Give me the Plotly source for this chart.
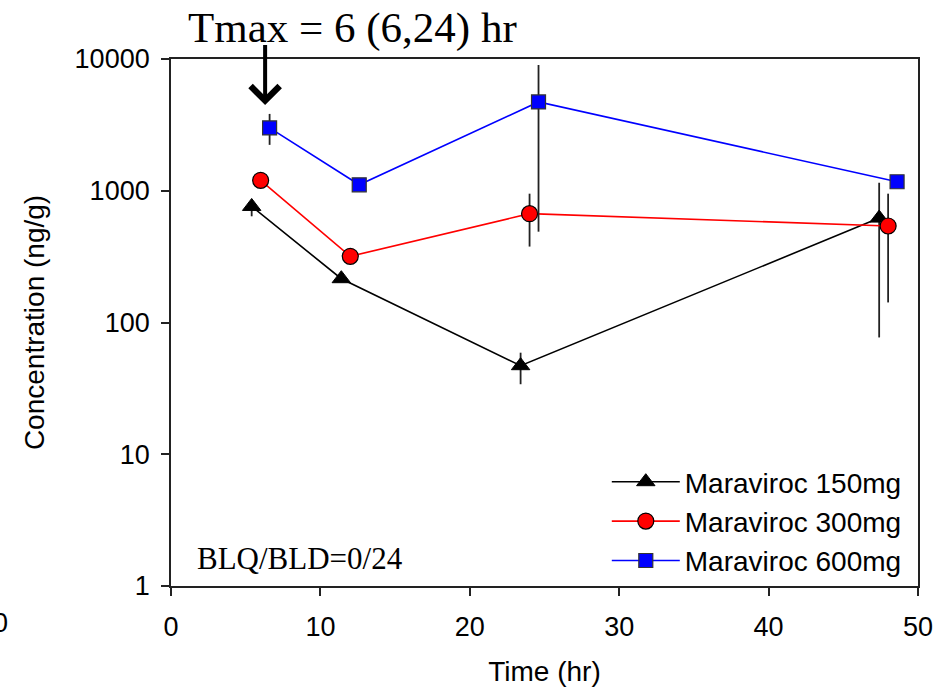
import math
import plotly.graph_objects as go

# Data
t150 = [5.4, 11.4, 23.4, 47.4]
c150 = [760, 215, 47, 620]
hi150 = [800, 215, 59, 1150]
lo150 = [640, 215, 34, 77]

t300 = [6.0, 12.0, 24.0, 48.0]
c300 = [1200, 318, 670, 540]
hi300 = [1200, 318, 950, 950]
lo300 = [1200, 318, 377, 142]

t600 = [6.6, 12.6, 24.6, 48.6]
c600 = [3000, 1110, 4720, 1170]
hi600 = [3830, 1110, 9010, 1170]
lo600 = [2230, 1110, 489, 1170]

names = ["Maraviroc 150mg", "Maraviroc 300mg", "Maraviroc 600mg"]
xticks = [0, 10, 20, 30, 40, 50]
yticks = [1, 10, 100, 1000, 10000]
yticktext = ["1", "10", "100", "1000", "10000"]

SANS = "Liberation Sans, Arial, sans-serif"
SERIF = "Liberation Serif, Times New Roman, serif"

fig = go.Figure()

series = [
    (t150, c150, hi150, lo150, names[0], "black",
     dict(symbol="triangle-up", size=16, color="black", line=dict(color="black", width=1))),
    (t300, c300, hi300, lo300, names[1], "red",
     dict(symbol="circle", size=16, color="red", line=dict(color="black", width=1.2))),
    (t600, c600, hi600, lo600, names[2], "blue",
     dict(symbol="square", size=14, color="blue", line=dict(color="#333333", width=1.2))),
]

for t, c, hi, lo, name, col, mk in series:
    fig.add_trace(go.Scatter(
        x=t, y=c, name=name, mode="lines+markers",
        line=dict(color=col, width=1.6),
        marker=mk,
        error_y=dict(type="data", symmetric=False,
                     array=[h - v for h, v in zip(hi, c)],
                     arrayminus=[v - l for v, l in zip(c, lo)],
                     color="#222222", thickness=1.8, width=0),
    ))

axis_common = dict(showline=True, linecolor="#222222", linewidth=1.8, mirror=True,
                   ticks="outside", ticklen=8, tickwidth=1.5, tickcolor="#222222",
                   showgrid=False, zeroline=False,
                   tickfont=dict(family=SANS, size=27, color="black"))

fig.update_xaxes(range=[0, 50], tickvals=xticks, ticklabelstandoff=8,
                 title=dict(text="Time (hr)", font=dict(family=SANS, size=28, color="black"), standoff=20),
                 **axis_common)
fig.update_yaxes(type="log", range=[0, 4], tickvals=yticks, ticktext=yticktext, ticklabelstandoff=6,
                 title=dict(text="Concentration (ng/g)", font=dict(family=SANS, size=28, color="black"), standoff=22),
                 **axis_common)

fig.add_annotation(text="Tmax = 6 (6,24) hr", xref="paper", yref="paper",
                   x=0.243, y=1.059, xanchor="center", yanchor="middle", showarrow=False,
                   font=dict(family=SERIF, size=43, color="black"))
# arrow pointing at the 600mg Tmax point (log axis -> annotation y in log10 units)
fig.add_annotation(text=" ", xref="x", yref="y", x=6.3, y=math.log10(4470), ax=0, ay=-62,
                   showarrow=True, arrowhead=4, arrowwidth=4, arrowsize=1.4,
                   arrowcolor="black", standoff=0, startstandoff=0,
                   font=dict(size=1))
fig.add_annotation(text="BLQ/BLD=0/24", xref="paper", yref="paper",
                   x=0.032, y=0.052, xanchor="left", yanchor="middle", showarrow=False,
                   font=dict(family=SERIF, size=31, color="black"))
fig.add_annotation(text="0", xref="paper", yref="paper",
                   x=-0.215, y=-0.07, xanchor="right", yanchor="middle", showarrow=False,
                   font=dict(family=SANS, size=27, color="black"))

fig.update_layout(
    width=945, height=694,
    margin=dict(l=171, r=22, t=59, b=108),
    paper_bgcolor="white", plot_bgcolor="white",
    showlegend=True,
    legend=dict(x=0.985, y=0.0, xanchor="right", yanchor="bottom",
                bgcolor="rgba(0,0,0,0)", font=dict(family=SANS, size=28, color="black"),
                tracegroupgap=0, itemwidth=68),
)

fig.write_html("out.html")
